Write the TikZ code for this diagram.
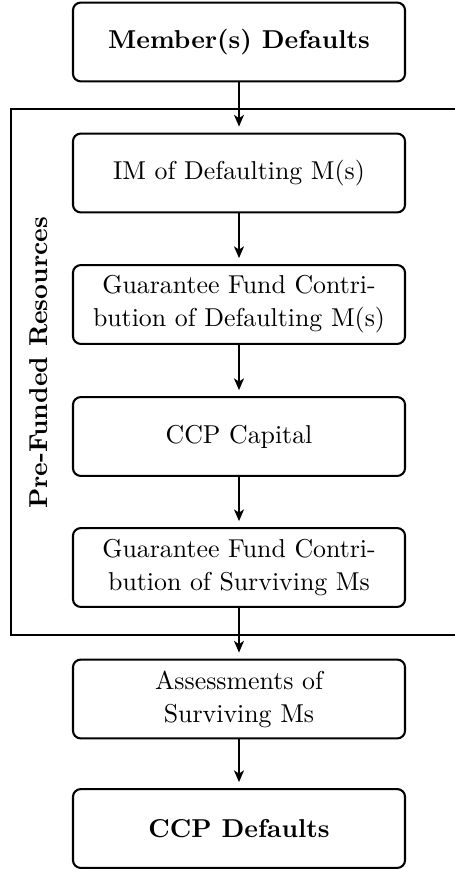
\documentclass[tikz,border=0pt]{standalone}
\usetikzlibrary{arrows.meta}
\begin{document}
\begin{tikzpicture}[x=0.387pt,y=-0.387pt,
  stepbox/.style={draw,line width=0.8pt,rounded corners=3pt,minimum width=128.5pt,minimum height=30.5pt,align=center,inner sep=0pt,font=\fontsize{10}{12.8}\selectfont},
  flow/.style={-{Stealth[length=4.5pt,width=3.8pt,inset=1.2pt]},line width=0.8pt,shorten >=2.3pt}]
\useasboundingbox (0,0) rectangle (455,869);
\draw[line width=0.6pt] (460,109) -- (11,109) -- (11,635) -- (460,635);
\node[stepbox] (a) at (239,42) {\bfseries Member(s) Defaults};
\node[stepbox] (b) at (239,173) {IM of Defaulting M(s)};
\node[stepbox] (c) at (239,304.5) {Guarantee Fund Contri-\\bution of Defaulting M(s)};
\node[stepbox] (d) at (239,436.5) {CCP Capital};
\node[stepbox] (e) at (239,567.5) {Guarantee Fund Contri-\\bution of Surviving Ms};
\node[stepbox] (f) at (239,699) {Assessments of\\Surviving Ms};
\node[stepbox] (g) at (239,828.5) {\bfseries CCP Defaults};
\node[rotate=90,font=\bfseries] (lbl) at (39,363) {Pre-Funded Resources};
\draw[flow] (a.south) -- (b.north);
\draw[flow] (b.south) -- (c.north);
\draw[flow] (c.south) -- (d.north);
\draw[flow] (d.south) -- (e.north);
\draw[flow] (e.south) -- (f.north);
\draw[flow] (f.south) -- (g.north);
\end{tikzpicture}
\end{document}
